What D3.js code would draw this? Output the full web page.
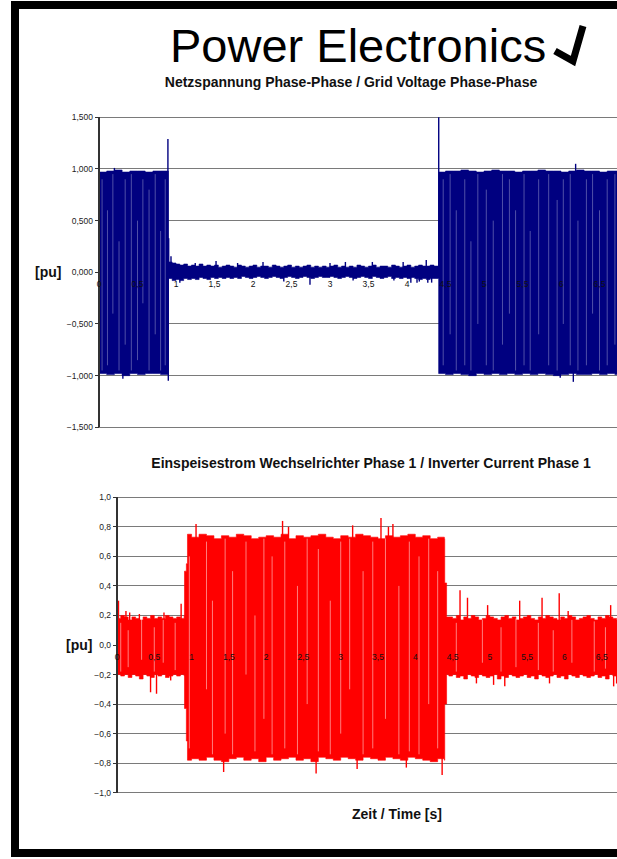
<!DOCTYPE html>
<html><head><meta charset="utf-8">
<script src="https://cdn.jsdelivr.net/npm/d3@7"></script>
<style>html,body{margin:0;padding:0;background:#fff;overflow:hidden}svg{display:block;font-family:"Liberation Sans",Arial,Helvetica,sans-serif}</style>
</head><body>
<svg id="c" width="617" height="859"></svg>
<script>
// ---------- Texts ----------
const mainTitle = "Power Electronics";
const title1 = "Netzspannung Phase-Phase / Grid Voltage Phase-Phase";
const title2 = "Einspeisestrom Wechselrichter Phase 1 / Inverter Current Phase 1";
const yLabel = "[pu]";
const xLabel = "Zeit / Time [s]";

// ---------- Ticks ----------
const xTicks = [0,0.5,1,1.5,2,2.5,3,3.5,4,4.5,5,5.5,6,6.5];
const vTicks = [-1.5,-1.0,-0.5,0,0.5,1.0,1.5];
const cTicks = [-1.0,-0.8,-0.6,-0.4,-0.2,0,0.2,0.4,0.6,0.8,1.0];

// ---------- Grid voltage (envelope) ----------
const vEnvT = [0,0.1,0.2,0.3,0.4,0.5,0.6,0.7,0.8,0.9,
  0.901,0.95,1.0,1.05,1.1,1.15,1.2,1.25,1.3,1.35,1.4,1.45,1.5,1.55,1.6,1.65,1.7,1.75,1.8,1.85,1.9,
  1.95,2.0,2.05,2.1,2.15,2.2,2.25,2.3,2.35,2.4,2.45,2.5,2.55,2.6,2.65,2.7,2.75,2.8,2.85,2.9,
  2.95,3.0,3.05,3.1,3.15,3.2,3.25,3.3,3.35,3.4,3.45,3.5,3.55,3.6,3.65,3.7,3.75,3.8,3.85,3.9,
  3.95,4.0,4.05,4.1,4.15,4.2,4.25,4.3,4.35,4.41,
  4.411,4.5,4.6,4.7,4.8,4.9,5.0,5.1,5.2,5.3,5.4,5.5,5.6,5.7,5.8,5.9,6.0,6.1,6.2,6.3,6.4,6.5,6.6,6.7,6.8,6.9,7.0];
const vEnvMax = [0.97,0.98,0.99,0.97,0.98,0.98,0.97,0.98,0.98,0.98,
  0.10,0.09,0.08,0.07,0.08,0.06,0.07,0.06,0.08,0.06,0.07,0.06,0.07,0.05,0.06,0.07,0.06,0.05,0.07,0.06,0.05,
  0.06,0.07,0.05,0.06,0.06,0.05,0.07,0.06,0.05,0.06,0.07,0.05,0.06,0.05,0.06,0.07,0.05,0.06,0.05,0.06,
  0.05,0.06,0.07,0.05,0.06,0.05,0.06,0.05,0.07,0.06,0.05,0.06,0.07,0.05,0.06,0.06,0.05,0.07,0.06,0.05,
  0.06,0.07,0.05,0.06,0.07,0.06,0.06,0.07,0.06,0.06,
  0.97,0.98,0.98,0.99,0.98,0.97,0.98,0.99,0.98,0.98,0.97,0.98,0.98,0.99,0.98,0.98,0.97,0.98,0.99,0.98,0.98,0.97,0.98,0.98,0.98,0.97,0.98];
const vEnvMin = [-0.98,-0.99,-0.98,-1.0,-0.98,-0.99,-0.98,-0.98,-0.99,-0.99,
  -0.06,-0.08,-0.07,-0.08,-0.06,-0.07,-0.06,-0.07,-0.05,-0.06,-0.07,-0.05,-0.06,-0.05,-0.06,-0.05,-0.06,-0.05,-0.06,-0.04,-0.05,
  -0.06,-0.05,-0.04,-0.05,-0.06,-0.05,-0.04,-0.05,-0.06,-0.05,-0.04,-0.05,-0.06,-0.05,-0.04,-0.05,-0.06,-0.05,-0.04,-0.05,
  -0.05,-0.04,-0.05,-0.06,-0.05,-0.04,-0.05,-0.06,-0.05,-0.04,-0.05,-0.06,-0.04,-0.05,-0.06,-0.05,-0.04,-0.06,-0.05,-0.06,
  -0.05,-0.06,-0.05,-0.06,-0.07,-0.06,-0.07,-0.06,-0.06,-0.06,
  -0.98,-0.99,-0.98,-0.99,-1.0,-0.98,-0.99,-0.98,-0.99,-0.98,-0.99,-0.98,-0.99,-0.98,-0.99,-1.0,-0.99,-0.98,-0.99,-0.99,-0.98,-0.99,-0.98,-0.99,-0.98,-0.99,-0.98];
const vSpikeT = [0.2,0.31,0.895,0.9,0.905,0.935,1.05,1.25,1.52,1.8,2.13,2.4,2.74,3.0,3.2,3.3,3.55,3.83,3.95,4.05,4.13,4.16,4.25,4.27,4.32,4.412,5.99,6.16,6.19];
const vSpikeV = [1.01,-1.03,1.29,-1.05,0.33,0.155,-0.1,0.09,0.11,0.09,0.1,-0.09,-0.12,0.09,0.1,-0.08,0.1,-0.08,0.1,-0.1,-0.1,-0.09,0.12,-0.1,-0.1,1.5,-1.02,-1.06,1.05];
const vGapT   = [0.04,0.11,0.18,0.26,0.34,0.42,0.5,0.57,0.65,0.73,0.8,0.86,
  4.47,4.56,4.64,4.75,4.83,4.92,5.03,5.12,5.24,5.33,5.41,5.52,5.6,5.71,5.84,5.95,6.03,6.12,6.22,6.33,6.41,6.5,6.6,6.7];
const vGapTop = [0.9,0.6,0.95,0.3,0.9,0.95,0.5,0.9,0.8,0.95,0.4,0.9,
  0.9,0.95,0.6,0.9,0.3,0.95,0.8,0.5,0.95,0.9,0.6,0.95,0.4,0.9,0.95,0.7,0.9,0.95,0.5,0.9,0.95,0.6,0.9,0.95];
const vGapBot = [-0.95,-0.9,-0.4,-0.95,-0.7,-0.95,-0.85,-0.3,-0.95,-0.6,-0.95,-0.9,
  -0.9,-0.6,-0.95,-0.9,-0.95,-0.5,-0.9,-0.95,-0.7,-0.4,-0.95,-0.9,-0.95,-0.6,-0.9,-0.95,-0.5,-0.9,-0.95,-0.9,-0.4,-0.95,-0.9,-0.7];

// ---------- Inverter current (envelope) ----------
const cEnvT = [0,0.05,0.1,0.15,0.2,0.25,0.3,0.35,0.4,0.45,0.5,0.55,0.6,0.65,0.7,0.75,0.8,0.85,0.9,
  0.905,0.93,0.945,
  1.0,1.1,1.2,1.3,1.4,1.5,1.6,1.7,1.8,1.9,2.0,2.1,2.2,2.3,2.4,2.5,2.6,2.7,2.8,2.9,3.0,3.1,3.2,3.3,3.4,3.5,3.6,3.7,3.8,3.9,4.0,4.1,4.2,4.3,4.39,
  4.395,4.415,4.42,
  4.45,4.5,4.55,4.6,4.65,4.7,4.75,4.8,4.85,4.9,4.95,5.0,5.05,5.1,5.15,5.2,5.25,5.3,5.35,5.4,5.45,5.5,5.55,5.6,5.65,5.7,
  5.75,5.8,5.85,5.9,5.95,6.0,6.05,6.1,6.15,6.2,6.25,6.3,6.35,6.4,6.45,6.5,6.55,6.6,6.65,6.7,6.75,6.8,6.85,6.9,6.95,7.0];
const cEnvMax = [0.18,0.2,0.19,0.17,0.19,0.18,0.17,0.19,0.18,0.2,0.18,0.19,0.18,0.2,0.19,0.18,0.19,0.18,0.2,
  0.5,0.55,0.75,
  0.73,0.75,0.74,0.72,0.74,0.73,0.75,0.74,0.72,0.73,0.74,0.73,0.75,0.72,0.74,0.73,0.74,0.75,0.73,0.72,0.74,0.73,0.75,0.74,0.73,0.72,0.74,0.73,0.74,0.75,0.73,0.74,0.72,0.73,0.72,
  0.42,0.42,0.19,
  0.19,0.18,0.2,0.17,0.19,0.18,0.2,0.19,0.17,0.18,0.2,0.19,0.18,0.17,0.19,0.2,0.18,0.19,0.17,0.18,0.19,0.2,0.18,0.17,0.19,0.18,
  0.2,0.19,0.18,0.17,0.19,0.18,0.2,0.19,0.17,0.18,0.19,0.2,0.18,0.17,0.19,0.18,0.2,0.19,0.18,0.17,0.19,0.2,0.18,0.19,0.18,0.19];
const cEnvMin = [-0.2,-0.21,-0.2,-0.22,-0.2,-0.21,-0.23,-0.2,-0.21,-0.22,-0.2,-0.21,-0.2,-0.22,-0.21,-0.2,-0.21,-0.2,-0.21,
  -0.43,-0.65,-0.78,
  -0.77,-0.78,-0.76,-0.78,-0.79,-0.77,-0.76,-0.78,-0.77,-0.79,-0.76,-0.78,-0.77,-0.76,-0.78,-0.77,-0.79,-0.76,-0.77,-0.78,-0.76,-0.77,-0.78,-0.76,-0.77,-0.78,-0.76,-0.77,-0.78,-0.76,-0.77,-0.78,-0.79,-0.77,-0.78,
  -0.4,-0.4,-0.2,
  -0.21,-0.2,-0.22,-0.21,-0.23,-0.2,-0.21,-0.22,-0.2,-0.21,-0.22,-0.21,-0.2,-0.23,-0.21,-0.22,-0.2,-0.21,-0.22,-0.21,-0.2,-0.22,-0.21,-0.23,-0.2,-0.21,
  -0.22,-0.21,-0.2,-0.22,-0.21,-0.23,-0.2,-0.21,-0.22,-0.2,-0.21,-0.22,-0.21,-0.2,-0.22,-0.21,-0.23,-0.2,-0.21,-0.22,-0.21,-0.2,-0.22,-0.21,-0.23,-0.22];
const cSpikeT = [0.02,0.12,0.17,0.3,0.45,0.53,0.63,0.72,0.86,1.06,1.43,2.22,2.3,2.67,3.16,3.22,3.54,3.64,3.7,3.88,4.36,
  4.6,4.7,4.82,4.97,5.05,5.2,5.4,5.7,5.8,5.93,6.05,6.62,6.66,6.7];
const cSpikeV = [0.3,0.23,0.22,0.21,-0.32,-0.33,0.22,-0.24,0.28,0.82,-0.86,0.84,0.8,-0.87,0.81,-0.84,0.86,0.8,0.82,-0.83,-0.88,
  0.37,0.32,-0.26,0.27,-0.27,-0.28,0.3,0.32,-0.26,0.35,0.23,0.27,-0.28,-0.26];
const cGapT   = [0.05,0.15,0.33,0.5,0.62,0.78,
  0.97,1.2,1.28,1.45,1.55,1.73,1.85,1.97,2.08,2.25,2.42,2.55,2.7,2.86,3.0,3.12,3.3,3.43,3.6,3.78,3.92,4.05,4.18,4.3,
  4.55,4.9,5.15,5.35,5.65,5.85,6.1,6.4,6.55];
const cGapTop = [0.15,0.1,0.18,0.12,0.17,0.15,
  0.6,0.7,0.3,0.72,0.5,0.7,0.2,0.72,0.6,0.7,0.4,0.72,0.65,0.3,0.7,0.72,0.5,0.7,0.72,0.4,0.7,0.6,0.72,0.5,
  0.15,0.17,0.12,0.18,0.15,0.1,0.17,0.16,0.12];
const cGapBot = [-0.18,-0.15,-0.1,-0.18,-0.12,-0.17,
  -0.7,-0.3,-0.74,-0.6,-0.74,-0.2,-0.72,-0.5,-0.74,-0.7,-0.74,-0.4,-0.72,-0.74,-0.6,-0.3,-0.74,-0.7,-0.5,-0.74,-0.72,-0.74,-0.4,-0.7,
  -0.18,-0.12,-0.18,-0.15,-0.17,-0.18,-0.12,-0.18,-0.16];

// ---------- Drawing ----------
const svg = d3.select("#c");
const W = 617, H = 859;
svg.append("rect").attr("width",W).attr("height",H).attr("fill","#fff");

const loc = d3.formatLocale({decimal:",",thousands:".",grouping:[3],currency:["","€"]});
const fx = loc.format("~g");

function chart(o){
  const x = d3.scaleLinear().domain([0,7]).range(o.xr);
  const y = d3.scaleLinear().domain(o.yd).range(o.yr);
  const g = svg.append("g");
  // gridlines
  g.selectAll("line.grid").data(o.ticks.filter(t=>t!==0)).join("line")
    .attr("x1",x(0)).attr("x2",W).attr("y1",d=>y(d)).attr("y2",d=>y(d))
    .attr("stroke","#7a7a7a").attr("stroke-width",1).attr("shape-rendering","crispEdges");
  // envelope
  const idx = d3.range(o.t.length);
  const area = d3.area().curve(d3.curveStepAfter).x(i=>x(o.t[i])).y0(i=>y(o.mn[i])).y1(i=>y(o.mx[i]));
  g.append("path").attr("d",area(idx)).attr("fill",o.color).attr("stroke",o.color).attr("stroke-width",0.6);
  // spikes
  g.selectAll("line.sp").data(d3.range(o.st.length)).join("line")
    .attr("x1",i=>x(o.st[i])).attr("x2",i=>x(o.st[i]))
    .attr("y1",y(0)).attr("y2",i=>y(o.sv[i]))
    .attr("stroke",o.color).attr("stroke-width",1.4);
  // light streaks
  g.selectAll("line.gap").data(d3.range(o.gt.length)).join("line")
    .attr("x1",i=>x(o.gt[i])).attr("x2",i=>x(o.gt[i]))
    .attr("y1",i=>y(o.gtop[i])).attr("y2",i=>y(o.gbot[i]))
    .attr("stroke","#fff").attr("stroke-opacity",o.gapOp).attr("stroke-width",0.9);
  // y axis
  g.append("line").attr("x1",x(0)).attr("x2",x(0)).attr("y1",o.yr[0]).attr("y2",o.yr[1])
    .attr("stroke","#333").attr("stroke-width",1.2).attr("shape-rendering","crispEdges");
  g.selectAll("line.tk").data(o.ticks).join("line")
    .attr("x1",x(0)-4).attr("x2",x(0)).attr("y1",d=>y(d)).attr("y2",d=>y(d))
    .attr("stroke","#333").attr("stroke-width",1).attr("shape-rendering","crispEdges");
  g.selectAll("text.yl").data(o.ticks).join("text")
    .attr("x",x(0)-6).attr("y",d=>y(d)+3).attr("text-anchor","end")
    .attr("font-size","8.5px").attr("fill","#222").text(d=>o.fy(d));
  // x tick labels (drawn over the data)
  g.selectAll("text.xl").data(xTicks).join("text")
    .attr("x",d=>x(d)).attr("y",y(0)+15).attr("text-anchor","middle")
    .attr("font-size","8.5px").attr("fill","#111").text(d=>fx(d));
  // y label
  g.append("text").attr("x",o.ylx).attr("y",y(0)+5).attr("font-size","14px").attr("font-weight","bold")
    .attr("fill","#111").text(yLabel);
}

chart({xr:[99,638], yd:[-1.5,1.5], yr:[427.3,117.3], ticks:vTicks, fy:loc.format(".3f"),
  t:vEnvT, mx:vEnvMax, mn:vEnvMin, st:vSpikeT, sv:vSpikeV, gt:vGapT, gtop:vGapTop, gbot:vGapBot,
  color:"#000080", gapOp:0.35, ylx:35});
chart({xr:[117,639], yd:[-1,1], yr:[792.7,497.3], ticks:cTicks, fy:loc.format(".1f"),
  t:cEnvT, mx:cEnvMax, mn:cEnvMin, st:cSpikeT, sv:cSpikeV, gt:cGapT, gtop:cGapTop, gbot:cGapBot,
  color:"#ff0000", gapOp:0.55, ylx:66});

// titles
svg.append("text").attr("x",170).attr("y",62).attr("font-size","47px").attr("fill","#000").text(mainTitle);
svg.append("path").attr("d","M555,51 L573,61 L583,26").attr("fill","none").attr("stroke","#000")
  .attr("stroke-width",7).attr("stroke-linejoin","miter");
svg.append("text").attr("x",351).attr("y",87).attr("text-anchor","middle").attr("font-size","14px")
  .attr("font-weight","bold").attr("fill","#111").text(title1);
svg.append("text").attr("x",371).attr("y",468).attr("text-anchor","middle").attr("font-size","14px")
  .attr("font-weight","bold").attr("fill","#111").text(title2);
svg.append("text").attr("x",397).attr("y",819).attr("text-anchor","middle").attr("font-size","14px")
  .attr("font-weight","bold").attr("fill","#111").text(xLabel);

// frame
svg.append("rect").attr("x",11).attr("y",1).attr("width",W-11).attr("height",8).attr("fill","#000");
svg.append("rect").attr("x",11).attr("y",1).attr("width",8).attr("height",856).attr("fill","#000");
svg.append("rect").attr("x",11).attr("y",849).attr("width",W-11).attr("height",8).attr("fill","#000");
</script>
</body></html>
